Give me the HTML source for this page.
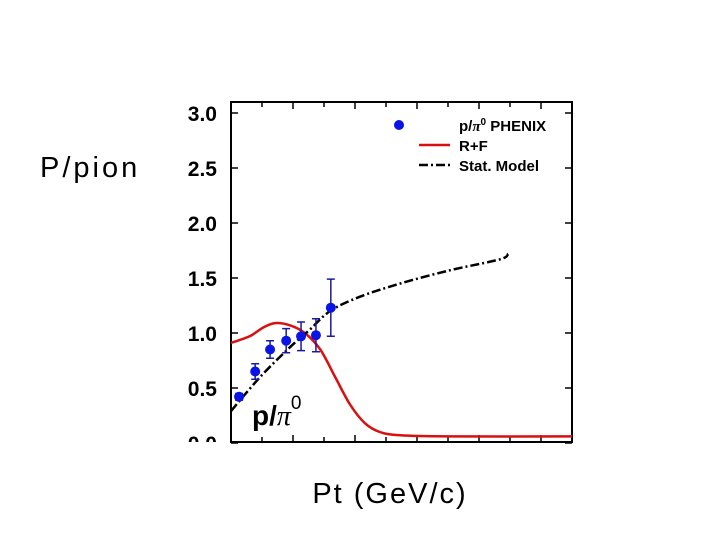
<!DOCTYPE html>
<html><head><meta charset="utf-8"><style>
body{margin:0;width:720px;height:540px;background:#fff;overflow:hidden;font-family:"Liberation Sans",sans-serif}
</style></head><body>
<svg width="720" height="540" id="chart">
<text x="40" y="177" font-size="29" fill="#000" letter-spacing="3">P/pion</text>
<text x="390" y="503" font-size="29" text-anchor="middle" letter-spacing="2" fill="#000">Pt (GeV/c)</text>
</svg>
<script>
const xTicks=[0,0.5,1,1.5,2,2.5,3,3.5,4,4.5,5,5.5];
const yTicks=[0,0.5,1,1.5,2,2.5,3];
const yTickLabels=["0.0","0.5","1.0","1.5","2.0","2.5","3.0"];
const dataX=[0.13,0.39,0.63,0.89,1.13,1.37,1.61];
const dataY=[0.42,0.65,0.85,0.93,0.97,0.98,1.23];
const dataErr=[0.03,0.07,0.08,0.11,0.13,0.15,0.26];
const rfX=[0,0.3,0.52,0.71,0.95,1.19,1.44,1.68,1.92,2.16,2.4,2.73,3.5,5.5];
const rfY=[0.91,0.97,1.05,1.09,1.07,1.0,0.85,0.6,0.35,0.18,0.1,0.07,0.06,0.06];
const smX=[0,0.47,0.95,1.27,1.6,2.08,2.73,3.53,4.34,4.47];
const smY=[0.29,0.6,0.87,1.03,1.2,1.33,1.45,1.57,1.67,1.72];

const L=231,R=572,T=102,B=442;
const xs=v=>L+v/5.5*(R-L);
const ys=v=>443-v*110;
const NS="http://www.w3.org/2000/svg";
const svg=document.getElementById('chart');
function mk(tag,attrs,parent){const e=document.createElementNS(NS,tag);for(const k in attrs)e.setAttribute(k,attrs[k]);(parent||svg).appendChild(e);return e;}
function smooth(X,Y){
 const p=X.map((x,i)=>[xs(x),ys(Y[i])]);
 let d=`M${p[0][0]},${p[0][1]}`;
 for(let i=0;i<p.length-1;i++){
  const p0=p[i-1]||p[i],p1=p[i],p2=p[i+1],p3=p[i+2]||p2;
  const c1=[p1[0]+(p2[0]-p0[0])/6,p1[1]+(p2[1]-p0[1])/6];
  const c2=[p2[0]-(p3[0]-p1[0])/6,p2[1]-(p3[1]-p1[1])/6];
  d+=`C${c1[0]},${c1[1]} ${c2[0]},${c2[1]} ${p2[0]},${p2[1]}`;
 }
 return d;
}
const defs=mk('defs',{});const cp=mk('clipPath',{id:'c'},defs);mk('rect',{x:L,y:T,width:R-L,height:B-T},cp);
const cp2=mk('clipPath',{id:'c2'},defs);mk('rect',{x:0,y:0,width:720,height:B},cp2);
const frame=mk('rect',{x:L,y:T,width:R-L,height:B-T,fill:'none',stroke:'#000','stroke-width':2});


xTicks.forEach((t,i)=>{
 const len=i%2===0?7:5;
 const a=mk('line',{x1:xs(t),x2:xs(t),y1:B,y2:B-len,stroke:'#000','stroke-width':1.5});
 
 
 const b=mk('line',{x1:xs(t),x2:xs(t),y1:T,y2:T+len,stroke:'#000','stroke-width':1.5});
 
 
});
const lblG=mk('g',{'clip-path':'url(#c2)'});
yTicks.forEach((t,i)=>{
 const a=mk('line',{x1:L,x2:L+7,y1:ys(t),y2:ys(t),stroke:'#000','stroke-width':1.5});
 
 
 const b=mk('line',{x1:R,x2:R-7,y1:ys(t),y2:ys(t),stroke:'#000','stroke-width':1.5});
 
 
 const tx=mk('text',{x:217,y:ys(t)+8,'font-size':21,'font-weight':'bold','text-anchor':'end'},lblG);
 tx.textContent=yTickLabels[i];
 
 
});
const g=mk('g',{'clip-path':'url(#c)'});
const rf=mk('path',{d:smooth(rfX,rfY),fill:'none',stroke:'#d81010','stroke-width':2.5},g);


const sm=mk('path',{d:smooth(smX,smY),fill:'none',stroke:'#000','stroke-width':2.5,'stroke-dasharray':'9,3,2,3'},g);


dataX.forEach((x,i)=>{
 const cx=xs(x),y1=ys(dataY[i]-dataErr[i]),y2=ys(dataY[i]+dataErr[i]);
 const e=mk('path',{d:`M${cx},${y1}V${y2}M${cx-4},${y1}H${cx+4}M${cx-4},${y2}H${cx+4}`,stroke:'#1a1aa0','stroke-width':1.5,fill:'none'});
 
 
 const c=mk('circle',{cx:cx,cy:ys(dataY[i]),r:5,fill:'#0a14e6'});
 
 
});
const lg=mk('g',{});


mk('circle',{cx:399,cy:125,r:5,fill:'#0a14e6'},lg);
mk('line',{x1:419,x2:450,y1:145,y2:145,stroke:'#d81010','stroke-width':2.5},lg);
mk('line',{x1:419,x2:450,y1:165,y2:165,stroke:'#000','stroke-width':2.5,'stroke-dasharray':'9,3,2,3'},lg);
const t1=mk('text',{x:459,y:131,'font-size':15,'font-weight':'bold'},lg);
t1.innerHTML='p/<tspan font-family="Liberation Serif,serif" font-style="italic">π</tspan><tspan dy="-6" font-size="10">0</tspan><tspan dy="6"> PHENIX</tspan>';
const t2=mk('text',{x:459,y:151,'font-size':15,'font-weight':'bold'},lg);t2.textContent='R+F';
const t3=mk('text',{x:459,y:171,'font-size':15,'font-weight':'bold'},lg);t3.textContent='Stat. Model';
const pl=mk('text',{x:252,y:425,'font-size':28,'font-weight':'bold'});
pl.innerHTML='p/<tspan font-family="Liberation Serif,serif" font-style="italic" font-weight="normal">π</tspan><tspan dy="-16" font-size="19" font-weight="normal">0</tspan>';


</script>
</body></html>
